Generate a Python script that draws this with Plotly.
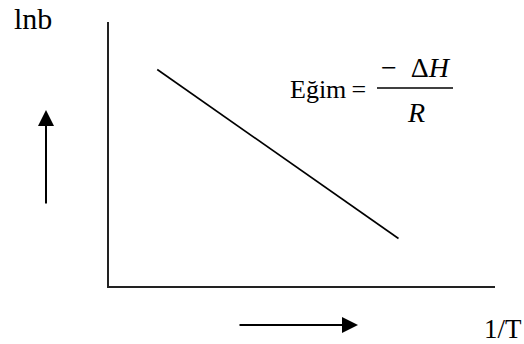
import plotly.graph_objects as go

# Schematic data (abstract units): ln b versus 1/T, straight line with negative slope
inv_T = [1.25, 7.5]
ln_b = [8.2, 1.8]

x_label = "1/T"
y_label = "lnb"
slope_label = "Eğim"

W, H = 524, 344
L, R, T, B = 109, 29, 22, 58
PW, PH = W - L - R, H - T - B


def px(x):
    return (x - L) / PW


def py(y):
    return (H - B - y) / PH


FONT = "Liberation Serif"

fig = go.Figure()
fig.add_trace(go.Scatter(x=inv_T, y=ln_b, mode="lines",
                         line=dict(color="black", width=1.6),
                         hoverinfo="skip", showlegend=False))

axis_common = dict(showline=True, linecolor="#222", linewidth=2,
                   showgrid=False, zeroline=False, ticks="",
                   showticklabels=False, fixedrange=True)


def label(x, y, text, size, anchor="center"):
    fig.add_annotation(xref="paper", yref="paper", x=px(x), y=py(y), text=text,
                       showarrow=False, xanchor=anchor, yanchor="middle",
                       font=dict(family=FONT, size=size, color="black"))


def arrow(x, y, ax, ay):
    fig.add_annotation(xref="paper", yref="paper", x=px(x), y=py(y), ax=ax, ay=ay,
                       showarrow=True, arrowhead=2, arrowsize=1.6, arrowwidth=2,
                       arrowcolor="black", text="")


arrow(46, 110, 0, 95)       # up arrow beside the y axis
arrow(358, 325, -120, 0)    # right arrow under the x axis
label(33, 19, y_label, 30)
label(503, 329, x_label, 27)
label(288, 89, slope_label + "\u2009=", 26, "left")
label(416, 68, "−\u00a0\u00a0Δ<i>H</i>", 28)
label(416, 112, "<i>R</i>", 28)

fig.add_shape(type="line", xref="paper", yref="paper",
              x0=px(377), x1=px(453), y0=py(88), y1=py(88),
              line=dict(color="black", width=1.5))

fig.update_layout(
    width=W, height=H,
    margin=dict(l=L, r=R, t=T, b=B),
    paper_bgcolor="white", plot_bgcolor="white",
    font=dict(family=FONT, color="black"),
    xaxis=dict(range=[0, 10], **axis_common),
    yaxis=dict(range=[0, 10], **axis_common),
    showlegend=False,
)

fig.write_html("out.html", config={"displayModeBar": False},
               post_script="document.body.style.margin='0';document.body.style.overflow='hidden';")
